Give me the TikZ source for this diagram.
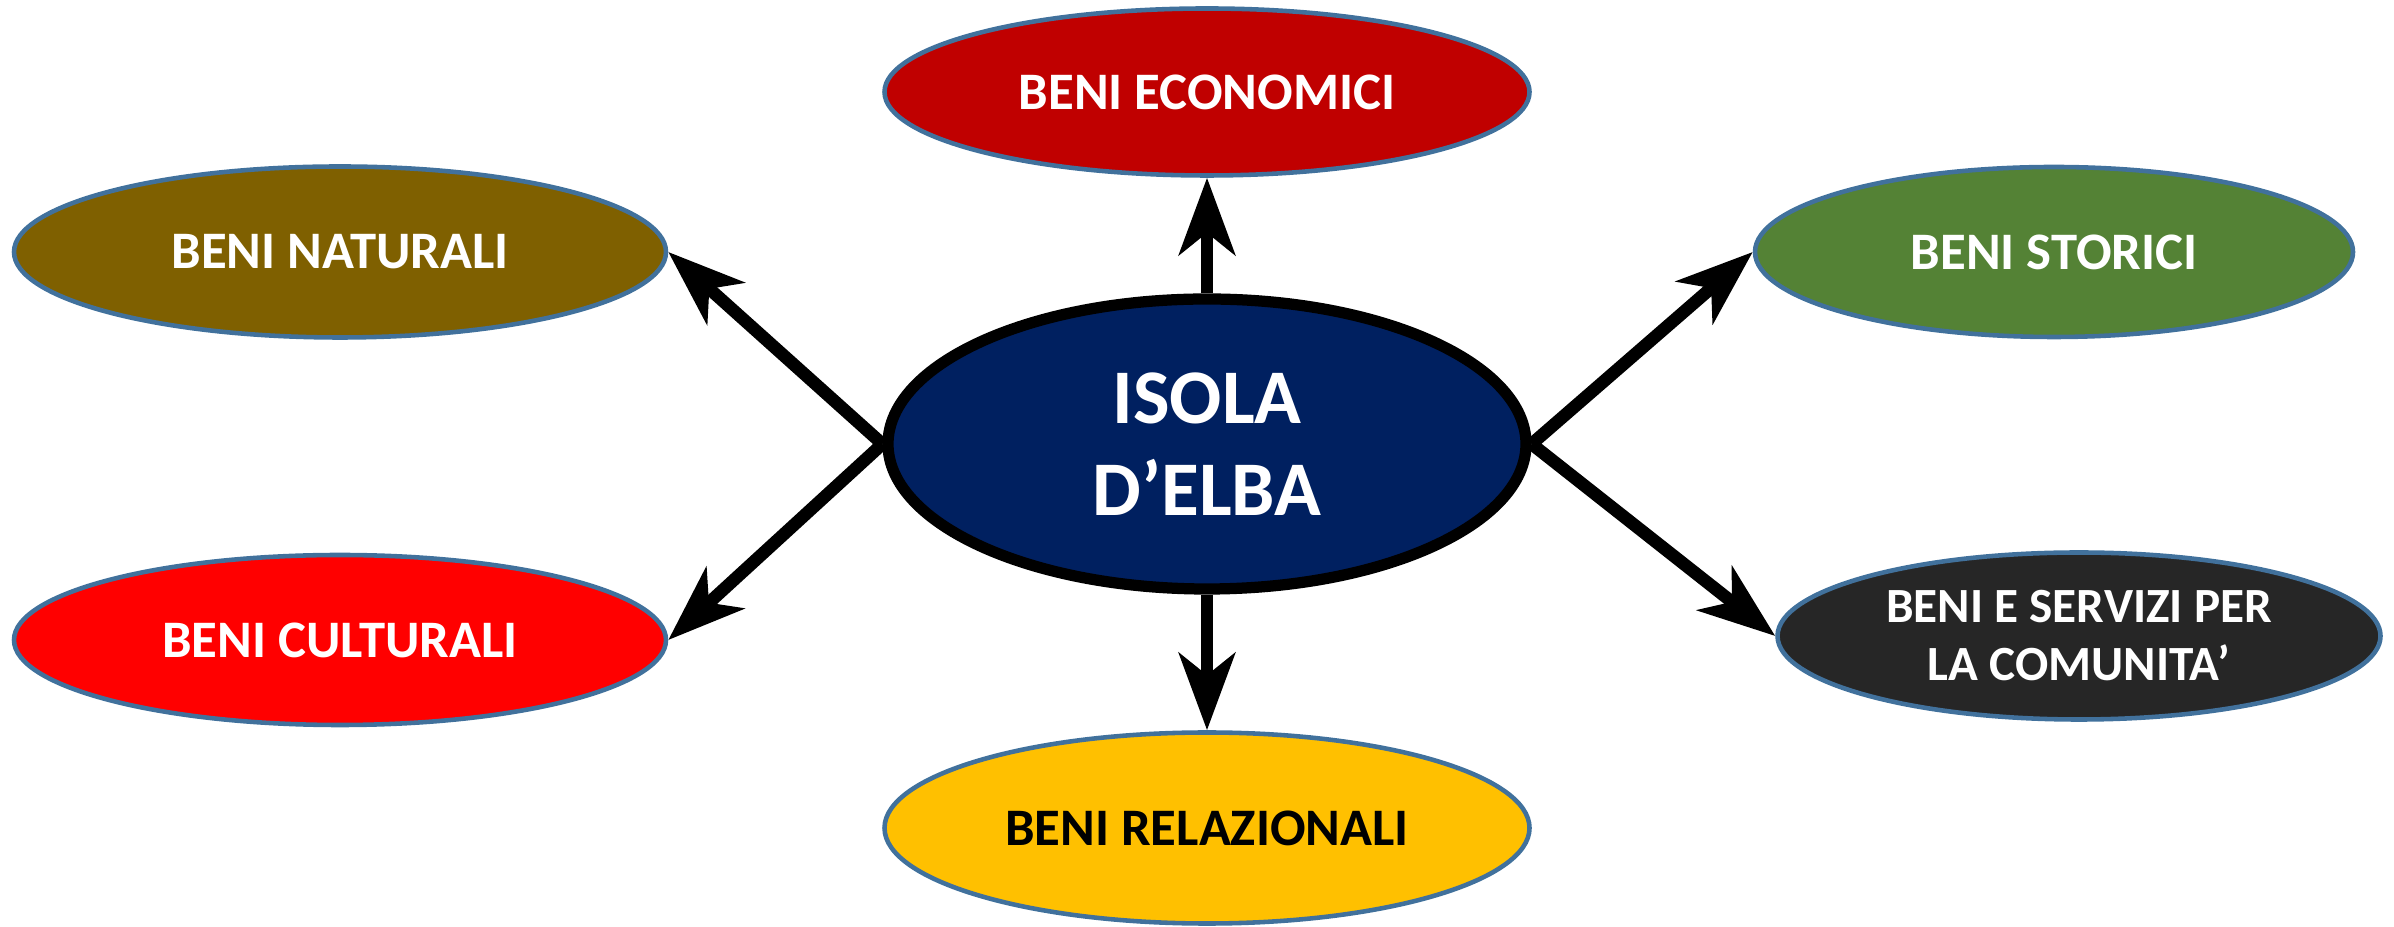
\documentclass[tikz,border=0pt]{standalone}
\usepackage{fontspec}
\setmainfont{Carlito}
\usepackage{xcolor}
\usetikzlibrary{arrows.meta, shapes.geometric}

\definecolor{bordo}{HTML}{41719C}
\definecolor{blunotte}{HTML}{002060}
\definecolor{rossoscuro}{HTML}{C00000}
\definecolor{ocra}{HTML}{7F6000}
\definecolor{verde}{HTML}{548235}
\definecolor{grafite}{HTML}{262626}
\definecolor{giallo}{HTML}{FFC000}

\tikzset{
  bene/.style={ellipse, draw=bordo, line width=1.3pt, inner sep=0pt, align=center,
    text=white, font=\bfseries\fontsize{15}{18}\selectfont},
  freccia/.style={line width=3.6pt, -{Stealth[length=0.77cm, width=0.56cm, inset=0.22cm]}}
}

\begin{document}
\begin{tikzpicture}
\useasboundingbox (0,0) rectangle (23.94,9.27);
%\draw[step=0.5cm,gray,very thin] (0,0) grid (23.94,9.27); %background grid
\node[ellipse, draw=black, line width=3.2pt, fill=blunotte, minimum width=6.38cm, minimum height=2.90cm,
  inner sep=0pt, align=center, text=white, font=\bfseries\fontsize{22}{26}\selectfont]
  (isola) at (12.07,4.83) {ISOLA\\D’ELBA}; %centro
\node[bene, fill=rossoscuro, minimum width=6.45cm, minimum height=1.67cm] (eco) at (12.07,8.35) {BENI ECONOMICI}; %su
\node[bene, fill=giallo, text=black, minimum width=6.45cm, minimum height=1.91cm] (rel) at (12.07,0.99) {BENI RELAZIONALI}; %giu
\node[bene, fill=ocra, minimum width=6.52cm, minimum height=1.71cm] (nat) at (3.40,6.75) {BENI NATURALI}; %alto sx
\node[bene, fill=red, minimum width=6.52cm, minimum height=1.70cm] (cult) at (3.40,2.87) {BENI CULTURALI}; %basso sx
\node[bene, fill=verde, minimum width=5.98cm, minimum height=1.70cm] (stor) at (20.54,6.75) {BENI STORICI}; %alto dx
\node[bene, fill=grafite, minimum width=6.03cm, minimum height=1.67cm, font=\bfseries\fontsize{14}{16.5}\selectfont]
  (serv) at (20.79,2.91) {BENI E SERVIZI PER\\LA COMUNITA’}; %basso dx
\draw[freccia] (isola.north) -- (eco.south);
\draw[freccia] (isola.south) -- (rel.north);
\draw[freccia] (isola.west) -- (nat.east);
\draw[freccia] (isola.west) -- (cult.east);
\draw[freccia] (isola.east) -- (stor.west);
\draw[freccia] (isola.east) -- (serv.west);
\end{tikzpicture}
\end{document}
